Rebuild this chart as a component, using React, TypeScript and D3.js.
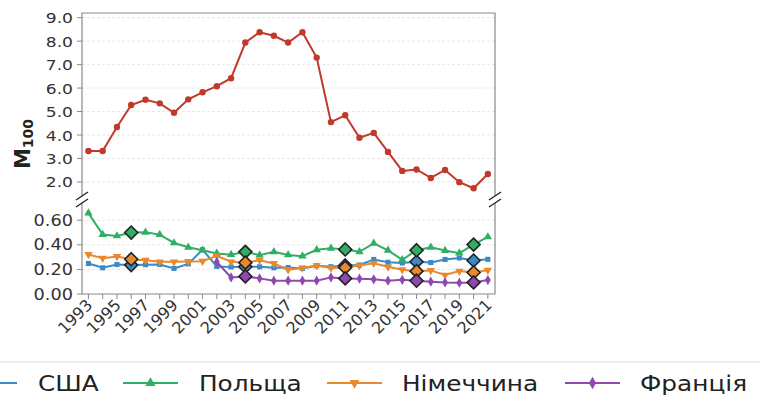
import React from 'react';
import * as d3 from 'd3';

const years = [1993,1994,1995,1996,1997,1998,1999,2000,2001,2002,2003,2004,2005,2006,2007,2008,2009,2010,2011,2012,2013,2014,2015,2016,2017,2018,2019,2020,2021];
const topValues = [3.32,3.32,4.34,5.28,5.50,5.35,4.95,5.52,5.82,6.08,6.42,7.94,8.38,8.23,7.94,8.38,7.30,4.55,4.84,3.88,4.09,3.28,2.47,2.53,2.17,2.51,1.99,1.73,2.34];
const usa = [0.248,0.213,0.24,0.235,0.238,0.24,0.208,0.245,0.36,0.224,0.22,0.222,0.221,0.213,0.215,0.208,0.23,0.222,0.232,0.236,0.281,0.258,0.252,0.262,0.256,0.281,0.293,0.272,0.282];
const poland = [0.658,0.483,0.472,0.50,0.502,0.483,0.415,0.38,0.356,0.33,0.32,0.343,0.316,0.343,0.318,0.308,0.36,0.372,0.362,0.343,0.412,0.355,0.278,0.356,0.38,0.353,0.332,0.402,0.464];
const germany = [0.321,0.291,0.305,0.283,0.275,0.262,0.262,0.265,0.267,0.31,0.262,0.255,0.275,0.248,0.198,0.212,0.231,0.212,0.215,0.231,0.25,0.221,0.197,0.186,0.192,0.154,0.186,0.175,0.194];
const france: (number | null)[] = [null,null,null,null,null,null,null,null,null,0.26,0.135,0.143,0.127,0.108,0.108,0.108,0.108,0.135,0.127,0.125,0.119,0.108,0.115,0.108,0.1,0.094,0.092,0.094,0.113];
const highlightYears = [1996, 2004, 2011, 2016, 2020];
const topTicks = [2.0,3.0,4.0,5.0,6.0,7.0,8.0,9.0];
const bottomTicks = [0.0,0.2,0.4,0.6];
const xTickYears = [1993,1995,1997,1999,2001,2003,2005,2007,2009,2011,2013,2015,2017,2019,2021];
const seriesNames = ['США','Польща','Німеччина','Франція'];

const FONT = 'DejaVu Sans, sans-serif';
const SX = 1.18;

export default function App() {
  const W = 760, H = 401;
  const left = 82, right = 495;
  const x = d3.scaleLinear().domain([1992.55, 2021.5]).range([left, right]);
  const yTop = d3.scaleLinear().domain([1.4, 9.2]).range([196, 13]);
  const yBot = d3.scaleLinear().domain([0, 0.74]).range([294, 203]);

  const series = [
    { name: seriesNames[0], vals: usa, color: '#3a8ac5', sym: d3.symbolSquare, size: 26, rot: 0 },
    { name: seriesNames[1], vals: poland, color: '#2fae64', sym: d3.symbolTriangle, size: 30, rot: 0 },
    { name: seriesNames[2], vals: germany, color: '#e8892e', sym: d3.symbolTriangle, size: 30, rot: 180 },
    { name: seriesNames[3], vals: france, color: '#8e48b0', sym: d3.symbolDiamond, size: 30, rot: 0 },
  ];

  const lineTop = d3.line<number>().x((_, i) => x(years[i])).y(d => yTop(d));
  const lineBot = d3.line<number | null>().defined(d => d != null).x((_, i) => x(years[i])).y(d => yBot(d as number));
  const bigD = (cx: number, cy: number) => {
    const r = 6.5;
    return `M${cx},${cy - r}L${cx + r},${cy}L${cx},${cy + r}L${cx - r},${cy}Z`;
  };

  const tickColor = '#333';
  const spine = '#8a8a8a';
  const grid = '#e4e4e4';

  return (
    <svg width={W} height={H} style={{ position: 'absolute', left: 0, top: 0, background: '#fff' }} fontFamily={FONT}>
      <rect x={0} y={0} width={W} height={H} fill="#fff" />
      {topTicks.map(t => (
        <line key={'gt' + t} x1={left} x2={right} y1={yTop(t)} y2={yTop(t)} stroke={grid} strokeWidth={0.9} strokeDasharray="3 2" />
      ))}
      {bottomTicks.filter(t => t > 0).map(t => (
        <line key={'gb' + t} x1={left} x2={right} y1={yBot(t)} y2={yBot(t)} stroke={grid} strokeWidth={0.9} strokeDasharray="3 2" />
      ))}
      <path d={`M${left},196V13H${right}V196`} fill="none" stroke={spine} strokeWidth={1.2} />
      <path d={`M${left},203V294H${right}V203`} fill="none" stroke={spine} strokeWidth={1.2} />
      {[[left, 196], [right, 196], [left, 203], [right, 203]].map(([bx, by], i) => (
        <line key={'br' + i} x1={bx - 6} y1={by + 4} x2={bx + 6} y2={by - 4} stroke="#222" strokeWidth={1.3} />
      ))}
      {topTicks.map(t => (
        <g key={'tt' + t}>
          <line x1={left - 5} x2={left} y1={yTop(t)} y2={yTop(t)} stroke={spine} />
          <text transform={`translate(${left - 9},${yTop(t) + 5.5}) scale(${SX},1)`} textAnchor="end" fontSize={14.5} fill={tickColor}>{t.toFixed(1)}</text>
        </g>
      ))}
      {bottomTicks.map(t => (
        <g key={'tb' + t}>
          <line x1={left - 5} x2={left} y1={yBot(t)} y2={yBot(t)} stroke={spine} />
          <text transform={`translate(${left - 9},${yBot(t) + 5.5}) scale(${SX},1)`} textAnchor="end" fontSize={15} fill={tickColor}>{t.toFixed(2)}</text>
        </g>
      ))}
      {years.map(yr => (
        <line key={'xt' + yr} x1={x(yr)} x2={x(yr)} y1={294} y2={299} stroke={spine} />
      ))}
      {xTickYears.map(yr => (
        <text key={'xl' + yr} transform={`translate(${x(yr) + 5},${306}) rotate(-45)`} textAnchor="end" fontSize={16} fill={tickColor}>{yr}</text>
      ))}
      <text transform={`translate(30,144) rotate(-90)`} textAnchor="middle" fontSize={21} fontWeight="bold" fill="#222">
        M<tspan fontSize={14} dy={3}>100</tspan>
      </text>
      <path d={lineTop(topValues) || ''} fill="none" stroke="#c0392b" strokeWidth={2} />
      {topValues.map((v, i) => (
        <circle key={'r' + i} cx={x(years[i])} cy={yTop(v)} r={3.2} fill="#c0392b" />
      ))}
      {series.map(s => (
        <g key={s.name}>
          <path d={lineBot(s.vals) || ''} fill="none" stroke={s.color} strokeWidth={2} />
          {s.vals.map((v, i) => v == null ? null : (
            <path key={i} d={d3.symbol(s.sym, s.size)() || ''} transform={`translate(${x(years[i])},${yBot(v)}) rotate(${s.rot})`} fill={s.color} />
          ))}
        </g>
      ))}
      {series.map(s => (
        <g key={'hl' + s.name}>
          {highlightYears.map(hy => {
            const i = years.indexOf(hy);
            const v = s.vals[i];
            if (v == null) return null;
            return <path key={hy} d={bigD(x(hy), yBot(v))} fill={s.color} stroke="#222" strokeWidth={1.6} />;
          })}
        </g>
      ))}
      <rect x={-30} y={362} width={820} height={60} rx={4} fill="#fff" stroke="#dcdcdc" strokeWidth={1} />
      {series.map((s, i) => {
        const lx = [-38, 123, 327, 565][i];
        const tx = [38, 199, 402, 640][i];
        return (
          <g key={'lg' + i}>
            <line x1={lx} x2={lx + 55} y1={383} y2={383} stroke={s.color} strokeWidth={2.2} />
            <path d={d3.symbol(s.sym, s.size + 14)() || ''} transform={`translate(${lx + 27.5},383) rotate(${s.rot})`} fill={s.color} />
            <text transform={`translate(${tx},391) scale(${SX},1)`} fontSize={21} fill="#222">{s.name}</text>
          </g>
        );
      })}
    </svg>
  );
}
